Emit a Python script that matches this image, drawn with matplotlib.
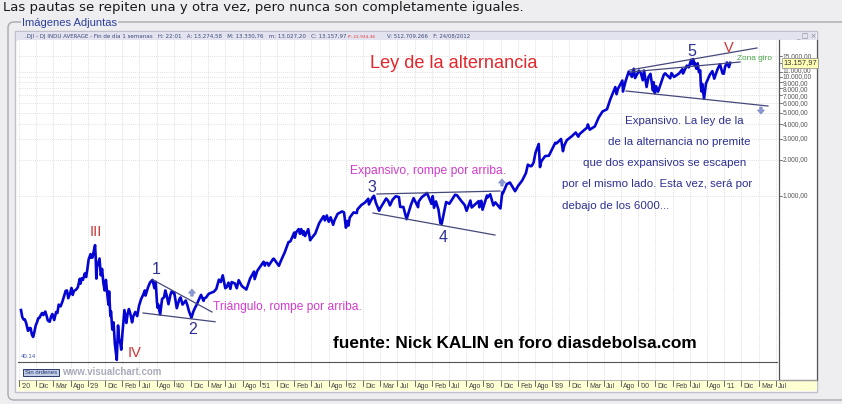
import matplotlib
matplotlib.use('Agg')
import matplotlib.pyplot as plt
from matplotlib.patches import FancyBboxPatch, Rectangle, Polygon
from matplotlib.transforms import blended_transform_factory, offset_copy

# ---------------- data ----------------
dji_dates = [
 "1920-01","1920-03","1920-05","1920-07","1920-09","1920-11","1920-12",
 "1921-02","1921-04","1921-06","1921-08","1921-10","1921-12",
 "1922-02","1922-04","1922-06","1922-08","1922-10","1922-12",
 "1923-03","1923-05","1923-07","1923-10","1923-12",
 "1924-02","1924-05","1924-08","1924-10","1924-12",
 "1925-03","1925-06","1925-09","1925-11",
 "1926-01","1926-03","1926-06","1926-08","1926-10","1926-12",
 "1927-03","1927-06","1927-09","1927-10","1927-12",
 "1928-02","1928-05","1928-07","1928-09","1928-11","1928-12",
 "1929-02","1929-03","1929-05","1929-07","1929-09","1929-10","1929-11","1929-12",
 "1930-02","1930-04","1930-06","1930-08","1930-10","1930-12",
 "1931-02","1931-04","1931-06","1931-07","1931-09","1931-10","1931-12",
 "1932-02","1932-04","1932-07","1932-09","1932-11","1932-12",
 "1933-02","1933-04","1933-07","1933-10","1933-12",
 "1934-02","1934-04","1934-07","1934-09","1934-12",
 "1935-03","1935-06","1935-09","1935-12",
 "1936-03","1936-04","1936-08","1936-11",
 "1937-03","1937-06","1937-08","1937-10","1937-11","1937-12",
 "1938-03","1938-06","1938-09","1938-11",
 "1939-01","1939-04","1939-07","1939-09","1939-12",
 "1940-01","1940-05","1940-09","1940-11",
 "1941-02","1941-07","1941-10","1941-12",
 "1942-04","1942-07","1942-10","1942-12",
 "1943-03","1943-07","1943-11","1943-12",
 "1944-03","1944-07","1944-12",
 "1945-03","1945-07","1945-11","1945-12",
 "1946-02","1946-05","1946-09","1946-11",
 "1947-02","1947-05","1947-07","1947-12",
 "1948-03","1948-06","1948-11",
 "1949-06","1949-12",
 "1950-06","1950-07","1950-11","1950-12",
 "1951-09","1951-11","1951-12",
 "1952-03","1952-05","1952-12",
 "1953-01","1953-09","1953-12",
 "1954-06","1954-12",
 "1955-03","1955-09","1955-10","1955-12",
 "1956-04","1956-06","1956-08","1956-11","1956-12",
 "1957-02","1957-07","1957-10","1957-12",
 "1958-06","1958-12",
 "1959-07","1959-09","1959-12",
 "1960-03","1960-06","1960-10","1960-12",
 "1961-05","1961-12",
 "1962-03","1962-06","1962-08","1962-10","1962-12",
 "1963-06","1963-11","1963-12",
 "1964-06","1964-12",
 "1965-05","1965-06","1965-12",
 "1966-02","1966-05","1966-10","1966-12",
 "1967-09","1967-12",
 "1968-03","1968-07","1968-12",
 "1969-05","1969-07","1969-12",
 "1970-05","1970-12",
 "1971-04","1971-11","1971-12",
 "1972-05","1972-12",
 "1973-01","1973-08","1973-10","1973-12",
 "1974-03","1974-07","1974-10","1974-12",
 "1975-07","1975-12",
 "1976-09","1976-12",
 "1977-06","1977-12",
 "1978-03","1978-09","1978-11",
 "1979-10","1979-11","1979-12",
 "1980-02","1980-04","1980-11","1980-12",
 "1981-04","1981-09","1981-12",
 "1982-08","1982-11","1982-12",
 "1983-06","1983-11","1983-12",
 "1984-07","1984-12",
 "1985-06","1985-12",
 "1986-03","1986-07","1986-09","1986-12",
 "1987-03","1987-08","1987-10","1987-12",
 "1988-06","1988-12",
 "1989-10","1989-12",
 "1990-07","1990-10","1990-12",
 "1991-04","1991-12",
 "1992-06","1992-10","1992-12",
 "1993-12",
 "1994-01","1994-04","1994-12",
 "1995-06","1995-12",
 "1996-07","1996-12",
 "1997-08","1997-10","1997-12",
 "1998-07","1998-08","1998-12",
 "1999-05","1999-10","1999-12",
 "2000-01","2000-03","2000-09","2000-12",
 "2001-03","2001-05","2001-09","2001-12",
 "2002-03","2002-07","2002-08","2002-10","2002-12",
 "2003-03","2003-12",
 "2004-02","2004-10","2004-12",
 "2005-04","2005-12",
 "2006-05","2006-06","2006-12",
 "2007-03","2007-07","2007-08","2007-10","2007-11","2007-12",
 "2008-03","2008-05","2008-07","2008-09","2008-10","2008-11","2008-12",
 "2009-03","2009-06","2009-12",
 "2010-04","2010-07","2010-12",
 "2011-04","2011-08","2011-10","2011-12",
 "2012-03","2012-06","2012-08",
]
dji_values = [
 108,94,90,90,84,76,72,
 76,76,67,64,71,80,
 85,92,93,98,102,98,
 105,97,88,86,95,
 100,89,104,102,120,
 116,128,145,157,
 158,136,150,166,145,157,
 160,168,198,180,200,
 194,220,205,240,290,300,
 320,298,300,340,381,300,199,248,
 270,294,212,240,183,158,
 194,150,120,155,96,105,74,
 85,56,41,80,58,60,
 50,70,108,84,100,
 110,102,85,96,104,
 96,118,133,144,
 158,143,168,184,
 194,165,187,125,113,120,
 99,134,138,158,
 145,121,145,155,150,
 152,112,133,138,
 120,130,117,106,
 93,105,114,119,
 130,145,129,135,
 138,148,152,
 154,163,195,192,
 186,212,165,168,
 184,163,186,181,
 165,193,172,
 161,200,
 228,197,230,235,
 276,256,269,
 270,256,292,
 293,255,280,
 330,404,
 410,487,440,488,
 521,475,520,466,499,
 455,520,419,435,
 478,583,
 670,616,679,
 600,655,566,615,
 700,734,
 720,535,610,558,652,
 720,711,762,
 830,874,
 939,840,969,
 995,865,744,785,
 943,905,
 825,920,985,
 970,801,800,
 631,838,
 950,797,890,
 970,1036,
 1051,851,987,788,
 891,760,584,577,
 881,852,
 1014,1004,
 910,831,
 742,907,792,
 897,796,838,
 903,759,1000,963,
 1024,824,875,
 777,1065,1046,
 1248,1287,1258,
 1087,1211,
 1335,1546,
 1821,1766,1775,1895,
 2300,2722,1738,1938,
 2150,2168,
 2791,2753,
 2999,2365,2633,
 2930,3168,
 3400,3136,3301,
 3754,
 3978,3593,3834,
 4556,5117,
 5346,6448,
 8222,7161,7908,
 9337,7539,9181,
 11107,10019,11497,
 11723,9796,11310,10787,
 9389,11337,8236,10021,
 10635,7702,9053,7286,8342,
 7524,10454,
 10738,9749,10783,
 10012,10718,
 11642,10706,12463,
 12050,14000,12845,14165,12743,13264,
 11740,13058,10962,11388,8451,7552,8776,
 6547,8800,10428,
 11205,9686,11577,
 12810,10720,10655,12217,
 13264,12101,13158,
]

date_labels = ["'20","Dic","Mar","Ago","'29","Dic","Feb","Jul","Ago","'40","Dic",
               "Mar","Jul","Ago","'51","Dic","Feb","Jul","Ago","'62","Dic","Mar",
               "Jul","Ago","Feb","Jul","Ago","'80","Dic","Feb","Ago","'89","Dic",
               "Mar","Jul","Ago","'00","Dic","Feb","Jul","Ago","'11","Dic","Mar","Jul"]

price_levels = [15000, 11000, 10000, 9000, 8000, 7000, 6000, 5000, 4000, 3000, 2000, 1000]
price_labels = ["15.000,00", "11.000,00", "10.000,00", "9.000,00", "8.000,00", "7.000,00",
                "6.000,00", "5.000,00", "4.000,00", "3.000,00", "2.000,00", "1.000,00"]
last_price = 13157.97
last_label = "13.157,97"

# trend lines (year, value)
tri_upper = [(1937.27, 194), (1944.97, 104)]
tri_lower = [(1935.97, 102), (1945.37, 86)]
exp_upper = [(1966.51, 1029), (1982.57, 1091)]
exp_lower = [(1965.99, 712), (1981.92, 464)]
top_upper = [(1999.54, 11460), (2016.12, 17570)]
top_mid = [(1999.54, 11020), (2013.90, 13380)]
top_lower = [(1999.02, 7618), (2017.55, 5691)]
arrows_up = [(1942.36, 150), (1982.83, 1275)]
arrows_down = [(2016.64, 5266)]

# ---------------- figure ----------------
W, H = 842, 404
BG = '#eeeef0'
fig = plt.figure(figsize=(W / 100, H / 100), dpi=100)
fig.patch.set_facecolor(BG)


def ax_px(x0, y0, x1, y1):
    return fig.add_axes([x0 / W, 1 - y1 / H, (x1 - x0) / W, (y1 - y0) / H])


bg = ax_px(0, 0, W, H)
bg.set_xlim(0, W); bg.set_ylim(H, 0); bg.axis('off'); bg.set_zorder(0)
bg.add_patch(FancyBboxPatch((8, 22), 860, 378, boxstyle='round,pad=0,rounding_size=6',
                            fc=BG, ec='#a8a8b0', lw=1))
bg.add_patch(Rectangle((15, 31), 802, 361, fc='white', ec='#c0c0cc', lw=1))
bg.add_patch(Rectangle((16, 32), 800, 9, fc='#e3e3ef', ec='none'))
bg.add_patch(Rectangle((18, 380), 799, 11, fc='#ffffd4', ec='none'))

# main plot
X0, X1 = 18, 779
YPX0, YPX1 = 40, 380
PX_PER_YEAR = 7.66
REF_PX, REF_YEAR = 95, 1929.7
PX_PER_DEC = 118.5


def year_at(px):
    return REF_YEAR + (px - REF_PX) / PX_PER_YEAR


def val_at(py):
    return 10 ** (3 - (py - 195.5) / PX_PER_DEC)


ax = ax_px(X0, YPX0, X1, YPX1)
ax.set_zorder(1)
ax.set_facecolor('white')
ax.set_yscale('log')
ax.set_xlim(year_at(X0), year_at(X1))
ax.set_ylim(val_at(YPX1), val_at(YPX0))
for s in ax.spines.values():
    s.set_visible(False)
ax.set_xticks([]); ax.set_yticks([]); ax.minorticks_off()
ax.tick_params(which='both', left=False, bottom=False, labelleft=False, labelbottom=False)

tick_years = [year_at(19 + 17.2 * i) for i in range(len(date_labels))]
for t in tick_years:
    ax.axvline(t, color='#d2d2d2', lw=0.6, ls=(0, (1, 1.5)), zorder=1)
for v in price_levels:
    ax.axhline(v, color='#d8d8d8', lw=0.6, ls=(0, (1, 1.5)), zorder=1)

xs = [int(d[:4]) + (int(d[5:]) - 0.5) / 12 for d in dji_dates]
ax.plot(xs, dji_values, color='#0505d2', lw=1.9, zorder=3, solid_joinstyle='round')

for ln in (tri_upper, tri_lower, exp_upper, exp_lower, top_upper, top_mid, top_lower):
    ax.plot([p[0] for p in ln], [p[1] for p in ln], color='#45487a', lw=0.9, zorder=4)

# right price axis
axr = ax_px(X1, YPX0, 817, YPX1)
axr.set_zorder(1)
axr.set_yscale('log')
axr.set_ylim(ax.get_ylim()); axr.set_xlim(0, 1)
axr.set_xticks([]); axr.set_yticks([]); axr.minorticks_off()
axr.tick_params(which='both', left=False, labelleft=False)
for k, s in axr.spines.items():
    s.set_visible(k in ('left', 'right', 'bottom'))
    s.set_color('#555555'); s.set_linewidth(0.9)
tr = blended_transform_factory(axr.transAxes, axr.transData)
# small vertical nudges (points) so that the crowded labels do not collide
label_nudge = {11000: 1.4, 10000: 0.0, 9000: -1.1, 8000: -1.0, 7000: -0.5}
for v, lab in zip(price_levels, price_labels):
    axr.plot([0, 0.09], [v, v], transform=tr, color='#666', lw=0.6)
    ttr = offset_copy(tr, fig=fig, x=0, y=label_nudge.get(v, 0), units='points')
    axr.text(0.1, v, lab, transform=ttr, fontsize=4.8, va='center', ha='left',
             color='#555', family='Liberation Sans')
axr.plot([0, 0.09], [last_price, last_price], transform=tr, color='#666', lw=0.6)
axr.text(0.11, last_price, last_label, transform=tr, fontsize=5.4, va='center', ha='left',
         color='#333', family='Liberation Sans',
         bbox=dict(boxstyle='square,pad=0.15', fc='#ffffb4', ec='#999', lw=0.6))

# date strip
axs = ax_px(18, 380, 817, 391)
axs.set_zorder(1)
axs.patch.set_alpha(0)
axs.set_xlim(year_at(18), year_at(817)); axs.set_ylim(0, 1)
axs.axis('off')
for t, lab in zip(tick_years, date_labels):
    axs.plot([t, t], [1, 0.5], color='#555', lw=0.6)
    axs.text(t + 0.3, 0.42, lab, fontsize=5.0, va='center', ha='left', color='#444',
             family='Liberation Sans')

# overlay for texts
ov = ax_px(0, 0, W, H)
ov.set_xlim(0, W); ov.set_ylim(H, 0); ov.axis('off'); ov.set_zorder(10)
ov.patch.set_alpha(0)
r = fig.canvas.get_renderer()


def fit(x, y, s, width, ha='left', size0=10, **kw):
    t = ov.text(x, y, s, fontsize=size0, ha=ha, va='center', **kw)
    bb = t.get_window_extent(renderer=r)
    t.set_fontsize(size0 * width / bb.width)
    return t


LS = 'Liberation Sans'
ov.plot([18, 777], [362, 362], color='#555', lw=0.8)
ov.plot([18, 817], [380, 380], color='#aaa', lw=0.6)

fit(3, 7.5, "Las pautas se repiten una y otra vez, pero nunca son completamente iguales.",
    517, family='DejaVu Sans', color='#1a1a1a')
fit(22, 23, "Imágenes Adjuntas", 95, family=LS, color='#2c3f9e',
    bbox=dict(fc=BG, ec='none', pad=0.6))
fit(25, 36.5, ".DJI - DJ INDU AVERAGE - Fin de día 1 semanas   H: 22:01   A: 13.274,58   "
    "M: 13.330,76   m: 13.027,20   C: 13.157,97", 318, family='DejaVu Sans', color='#3b4a7a')
fit(348, 36.5, "P: 22.934,36", 27, family='DejaVu Sans', color='#e03030')
fit(387, 36.5, "V: 512.709.266   F: 24/08/2012", 83, family='DejaVu Sans', color='#3b4a7a')
ov.text(806, 36.5, "_ □ ×", fontsize=5, ha='center', va='center', color='#888',
        family='DejaVu Sans')

fit(370, 63, "Ley de la alternancia", 168, family=LS, color='#e3262b')

red = '#cc3333'
for s, x, y in (("III", 96, 232), ("IV", 135, 353), ("V", 729, 48)):
    ov.text(x, y, s, fontsize=10.5, ha='center', va='center', color=red, family=LS)
navy = '#2e3192'
for s, x, y in (("1", 156, 269), ("2", 193, 329), ("3", 372, 187), ("4", 443, 237),
                ("5", 692, 52)):
    ov.text(x, y, s, fontsize=11.5, ha='center', va='center', color=navy, family=LS)

mag = '#d23ccc'
fit(213, 307, "Triángulo, rompe por arriba.", 149, family=LS, color=mag)
fit(350, 171, "Expansivo, rompe por arriba.", 156, family=LS, color=mag)
fit(737, 58.5, "Zona giro", 35, family=LS, color='#4aa84a')

t1 = fit(625, 121, "Expansivo. La ley de la", 118, family=LS, color=navy)
fs = t1.get_fontsize()
ov.text(751, 142, "de la alternancia no premite", fontsize=fs, ha='right', va='center',
        color=navy, family=LS)
ov.text(746, 163, "que dos expansivos se escapen", fontsize=fs, ha='right', va='center',
        color=navy, family=LS)
t4 = ov.text(752, 184, "por el mismo lado. Esta vez, será por", fontsize=fs, ha='right',
             va='center', color=navy, family=LS)
bb4 = t4.get_window_extent(renderer=r)
left4 = ov.transData.inverted().transform((bb4.x0, bb4.y0))[0]
ov.text(left4, 206, "debajo de los 6000...", fontsize=fs, ha='left', va='center',
        color=navy, family=LS)

fit(333, 343, "fuente: Nick KALIN en foro diasdebolsa.com", 365, family=LS,
    weight='bold', color='black')
fit(62, 372, "www.visualchart.com", 99, family=LS, weight='bold', color='#a9abbb')
ov.add_patch(Rectangle((23, 369), 36, 7, fc='#c2cde8', ec='#2a3a6a', lw=0.7))
fit(25, 372.6, "Sin órdenes", 32, family=LS, color='#223366')
fit(21, 356, "40.14", 15, family=LS, color='#4455aa')

# arrows
inv = ov.transData.inverted()
for (yr, v) in arrows_up + arrows_down:
    cx, cy = inv.transform(ax.transData.transform((yr, v)))
    d = -1 if (yr, v) in arrows_up else 1
    pts = [(cx - 1.2, cy - 3 * d), (cx - 1.2, cy), (cx - 3.5, cy), (cx, cy + 4 * d),
           (cx + 3.5, cy), (cx + 1.2, cy), (cx + 1.2, cy - 3 * d)]
    ov.add_patch(Polygon(pts, closed=True, fc='#8c9bd6', ec='#7a88c4', lw=0.5))

fig.savefig('out.png', dpi=100, facecolor=fig.get_facecolor())
